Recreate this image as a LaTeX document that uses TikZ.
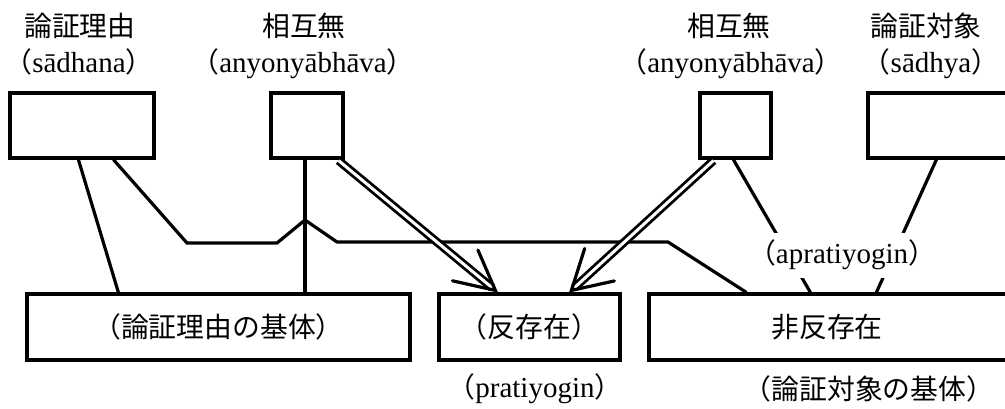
\documentclass[tikz,border=0pt]{standalone}
\usepackage{fontspec}
\setmainfont{Liberation Serif}
\newfontfamily\jp[Scale=0.96]{Noto Sans CJK JP}
\newcommand\jlp{{\jp （}}
\newcommand\jrp{{\jp ）}}
\usetikzlibrary{calc}
\begin{document}
\begin{tikzpicture}[x=1pt,y=-1pt,
  every node/.style={font=\fontsize{29}{34}\selectfont},
  box/.style={draw, line width=3.2pt, inner sep=0pt, fill=white},
  lbl/.style={inner sep=0pt, anchor=base},
  conn/.style={line width=3.2pt},
  dbl/.style={line width=2.8pt, double=white, double distance=3pt},
  barb/.style={line width=3.2pt, line cap=round}]
\clip (0,0) rectangle (1005,408);
\fill[white] (0,0) rectangle (1005,408);
% top boxes
\node[box, minimum width=144, minimum height=65] (A) at (82,125.5) {};
\node[box, minimum width=72, minimum height=65] (B) at (307,125.5) {};
\node[box, minimum width=71, minimum height=65] (C) at (735.5,125.5) {};
\node[box, minimum width=147, minimum height=65] (D) at (941.5,125.5) {};
% bottom boxes
\node[box, minimum width=383, minimum height=66] (E) at (218.5,327) {\jp （論証理由の基体）};
\node[box, minimum width=181, minimum height=66] (F) at (529.5,327) {\jp （反存在）};
\node[box, minimum width=366, minimum height=66] (G) at (832,327) {};
\node (Gt) at (827,327) {\jp 非反存在};
% top labels
\node[lbl] (t1) at (80,36) {\jp 論証理由};
\node[lbl] (t1b) at (79,72) {\jlp sādhana\jrp};
\node[lbl] (t2) at (304,36) {\jp 相互無};
\node[lbl] (t2b) at (303,72) {\jlp anyonyābhāva\jrp};
\node[lbl] (t3) at (729,36) {\jp 相互無};
\node[lbl] (t3b) at (731,72) {\jlp anyonyābhāva\jrp};
\node[lbl] (t4) at (926,36) {\jp 論証対象};
\node[lbl] (t4b) at (931,72) {\jlp sādhya\jrp};
% bottom labels
\node[lbl] (b1) at (535,397) {\jlp pratiyogin\jrp};
\node[lbl] (b2) at (869,399) {\jp （論証対象の基体）};
% connectors
\draw[conn] ($(A.south west)+(70,0)$) -- ($(E.north west)+(93,0)$);
\draw[conn, line join=miter] ($(A.south west)+(105,0)$) -- (187,243) -- (277,243) -- (305,220) -- (337,242) -- (668,242) -- ($(G.north west)+(99,0)$);
\coordinate (Bv) at ($(B.south)+(-2,0)$);
\draw[conn] (Bv) -- (Bv |- E.north);
% double arrows
\coordinate (s1) at ($(B.south east)+(-6,1)$);
\coordinate (p1) at ($(F.north west)+(58,-2)$);
\draw[dbl] (s1) -- ($(p1)!4pt!(s1)$);
\draw[barb] ($(p1)!44pt!27:(s1)$) -- (p1) -- ($(p1)!44pt!-27:(s1)$);
\coordinate (s2) at ($(C.south west)+(15,1)$);
\coordinate (p2) at ($(F.north west)+(134,-2)$);
\draw[dbl] (s2) -- ($(p2)!4pt!(s2)$);
\draw[barb] ($(p2)!44pt!30:(s2)$) -- (p2) -- ($(p2)!44pt!-30:(s2)$);
% apratiyogin lines
\draw[conn] ($(C.south west)+(35,0)$) -- ($(G.north west)+(163,0)$);
\draw[conn] ($(D.south west)+(70,0)$) -- ($(G.north west)+(229,0)$);
\node[fill=white, inner xsep=2pt, minimum height=45, anchor=center] (ap) at (842,255) {\jlp apratiyogin\jrp};
\end{tikzpicture}
\end{document}
